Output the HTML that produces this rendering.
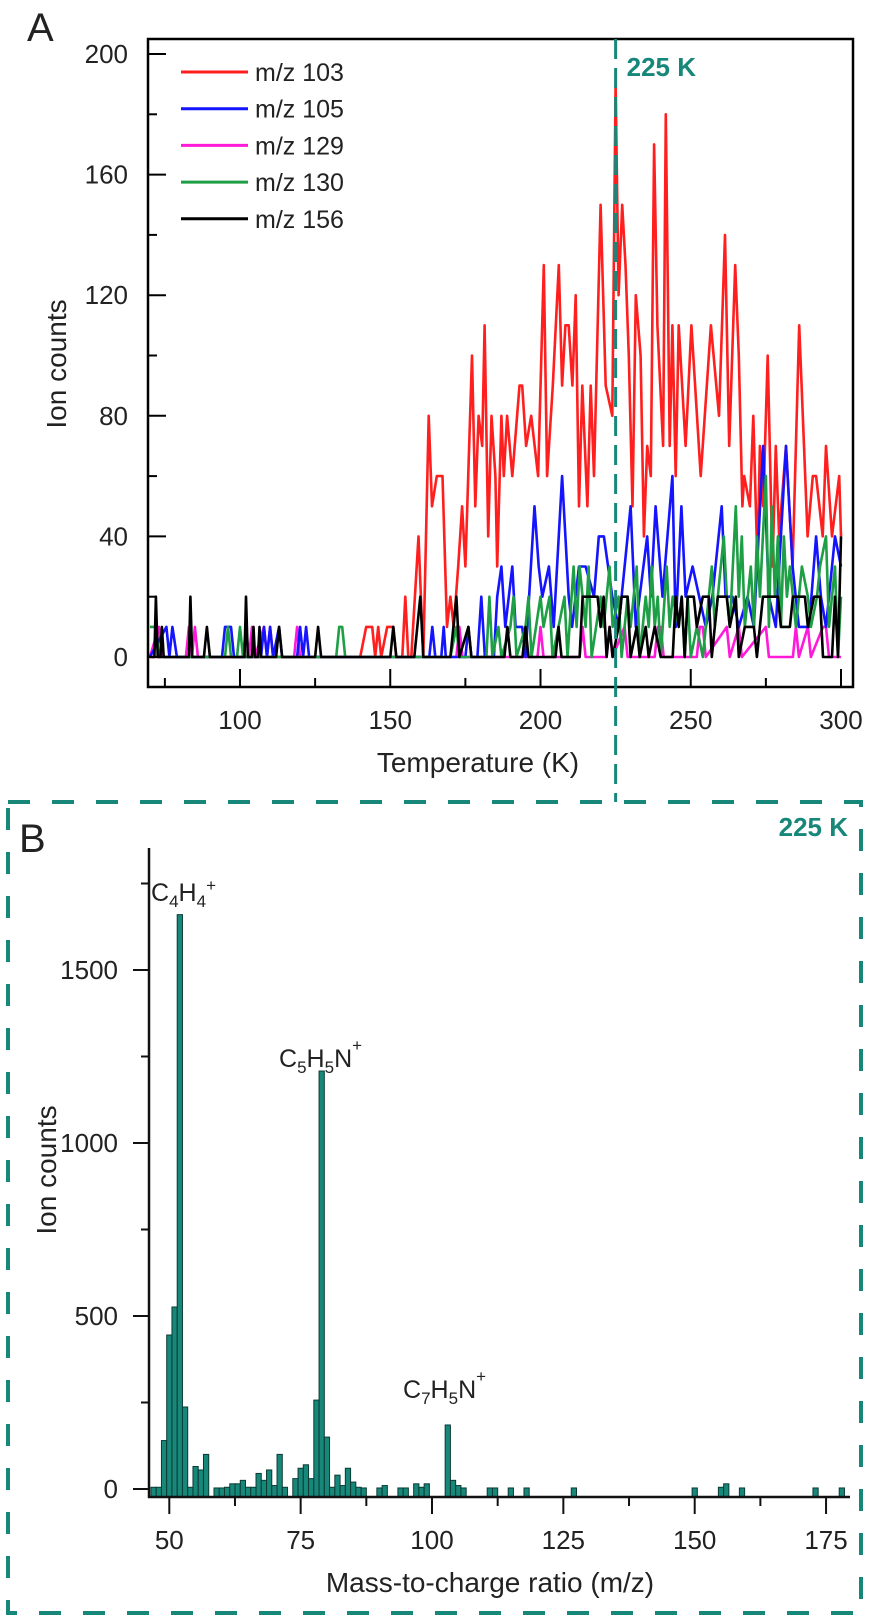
<!DOCTYPE html>
<html><head><meta charset="utf-8"><style>
html,body{margin:0;padding:0;background:#fff;}
svg{display:block;font-family:"Liberation Sans",Arial,sans-serif;}
</style></head><body>
<svg id="fig" width="870" height="1621" viewBox="0 0 870 1621" xmlns="http://www.w3.org/2000/svg">
<g id="panelA"></g>
<g id="panelB"></g>
</svg>
<script>
// ---------- Panel A data ----------
const redT=[70,140,142,144,145,146,147,149,151,152,154,155,156,157,159.4,161,162.8,163.9,165.5,167.4,168.9,170,171.1,172.6,173.9,175,177.2,178.3,179.4,180.6,181.4,182.6,183.7,185,185.6,187,187.8,188.9,190.6,193,193.9,195.2,196.9,199.2,201.1,202.2,204.1,206.1,207.2,208.3,209.4,210.6,211.7,212.8,213.9,215.6,216.7,217.8,220,221.7,223.9,225,226,227.2,228.3,229.4,230.6,231.7,233.3,234.4,235.5,236.7,237.8,238.9,240.8,241.7,243,243.9,245,246,248.3,250.2,253.3,256.7,259.4,261.4,262.8,264.8,266,267.2,267.8,269.7,270.8,272.2,273,274.1,275.6,277.2,278.3,279.4,281.7,283.9,286.1,288.9,290.6,291.7,293.9,295,297,299.4,300];
const redV=[0,0,10,10,0,10,0,10,10,0,0,20,0,0,40,0,80,50,60,60,10,20,10,30,50,30,100,50,80,70,110,40,80,60,30,80,60,80,60,90,90,70,80,60,130,60,90,130,90,110,110,90,120,50,90,50,90,60,150,90,80,190,120,150,130,100,50,120,100,40,70,60,170,110,70,180,70,110,60,110,70,110,60,110,80,140,70,130,100,50,60,50,80,30,70,50,100,30,70,40,70,30,110,40,60,60,40,70,40,60,40,40];
const blueT=[70,75.5,76.5,77.5,79,94,95,97,98,107,108,109,110,111,113,114,119,120,121,122,123,163,164,165,167,167.8,168.5,175,176,177,179,180.3,181.5,184.5,185.6,187,188.3,190.6,191.7,193.9,195,198,199.4,200.6,202.8,204.4,207.2,209.4,210.5,212.8,215,217.8,219.4,221.1,223.9,226,230,231.7,235.5,236.7,238.3,240.6,243.9,245,246.9,248.3,250.6,252.8,255,257.2,260.3,261.6,263.9,266,268.9,271,274.1,276,278.3,281.7,283.9,286,289.4,291.7,293.3,295,298,300];
const blueV=[0,10,0,10,0,0,10,10,0,0,10,0,10,0,10,0,0,10,0,10,0,0,10,0,0,10,0,0,10,0,0,20,0,0,20,30,10,30,10,10,0,50,30,20,30,10,60,20,10,30,30,20,40,40,20,10,50,10,40,20,50,20,60,10,50,20,30,20,10,20,50,20,20,10,20,10,70,20,10,70,30,10,10,40,20,10,40,30];
const magT=[70,73,74,82,83,84,85,86,101,102,103,104,105,108,109,110,111,118,119,120,172,173,174,199,200,201,213,214,215,222,223,224,228,229,238,239,240,241,252,253,254,255,262,263,266,267,275,276,284,285,286,289,290,294,295,296,300];
const magV=[0,10,0,0,10,0,10,0,0,10,0,10,0,10,0,10,0,0,10,0,0,10,0,0,10,0,0,10,0,0,10,0,10,0,0,10,10,0,0,10,10,0,10,0,10,0,10,0,0,10,0,10,0,10,10,0,0];
const greenT=[70,72,73,95,96,97,99,100,101,132,133,134,135,170,172,173,182,183,184,186,187,190,191,192,195,196,197,200,201,203,204,206,208,209,211,212,213,214,215,216,217,220,221,223,224,226,227,229,230,232,233,235,236,237,238,239,240,242,243,244,246,247,248,249,250,252,254,256,257,258,260,261,262,263,265,266,267,268,270,271,272,273,275,276,277,278,279,280,281,282,283,285,287,289,290,292,293,295,296,298,299,300];
const greenV=[10,10,0,0,10,0,0,10,0,0,10,10,0,0,10,0,0,20,0,10,0,10,20,0,10,20,0,20,10,20,0,10,20,0,30,10,30,20,10,30,0,20,10,30,10,20,0,20,10,30,0,20,10,30,10,20,0,30,10,20,10,20,0,20,0,10,0,20,30,10,30,40,20,10,50,20,40,10,30,10,40,20,60,10,50,20,40,10,40,20,30,10,30,20,10,20,30,40,10,30,0,20];
const blackT=[70,71.5,72,72.6,73.5,74,74.6,83,83.5,84.1,88,89,90,101.5,102,102.6,104,104.5,105,106,106.5,107,112,113,114,125,126,127,150,151,152,158,160,161,170,172,173,176,177,188,189,190,194,195,196,205,206,207,213,214,219,220,221,222,223,224,226,227,229,230,232,233,235,236,238,240,244,245,246,247,248,249,251,252,254,256,257,259,262,263,265,266,268,271,272,274,279,280,283,284,288,289,291,293,294,297,298,299,300];
const blackV=[0,0,20,0,0,10,0,0,20,0,0,10,0,0,20,0,0,10,0,0,10,0,0,10,0,0,10,0,0,10,0,0,20,0,0,20,0,10,0,0,10,0,0,10,0,0,10,0,0,20,20,10,20,0,10,0,10,20,20,0,10,0,10,0,10,0,0,20,10,20,0,20,20,10,20,20,0,20,20,10,20,0,10,10,0,20,20,10,10,20,20,10,20,20,0,0,20,0,40];
const seriesNames=["m/z 103","m/z 105","m/z 129","m/z 130","m/z 156"];
const xTicksA=[100,150,200,250,300];
const yTicksA=[0,40,80,120,160,200];
const markerT=[225];

// ---------- Panel B data ----------
const mz=[47,48,49,50,51,52,53,54,55,56,57,59,60,61,62,63,64,65,66,67,68,69,70,71,72,74,75,76,77,78,79,80,81,82,83,84,85,86,87,90,91,94,95,97,98,99,103,104,105,106,111,112,115,118,127,150,155,156,159,173,178];
const counts=[5,5,140,445,526,1660,237,5,65,55,100,3,3,5,15,15,25,5,5,45,25,55,10,100,5,30,60,70,30,257,1208,150,5,40,10,60,20,5,3,3,10,3,3,15,5,15,185,25,10,3,3,3,3,3,3,3,5,15,3,3,3];
const xTicksB=[50,75,100,125,150,175];
const yTicksB=[0,500,1000,1500];

const NS="http://www.w3.org/2000/svg";
function el(tag,attrs,parent,text){const e=document.createElementNS(NS,tag);for(const k in attrs)e.setAttribute(k,attrs[k]);if(text!==undefined)e.textContent=text;parent.appendChild(e);return e;}
const TEAL="#17877a";

// ===== Panel A =====
const A=document.getElementById('panelA');
const xA=t=>240+(t-100)*3.005;
const yA=v=>657-v*3.015;
const fL=148,fR=853,fT=39,fB=687;

const series=[[redT,redV,"#ff1f1f"],[blueT,blueV,"#1414ff"],[magT,magV,"#ff1ad9"],[greenT,greenV,"#1e9e45"],[blackT,blackV,"#000000"]];
const sNames=['series-mz103','series-mz105','series-mz129','series-mz130','series-mz156'];
[2,0,1,3,4].forEach(i=>{
  const [T,V,c]=series[i];
  let d='';T.forEach((t,j)=>{d+=(j?'L':'M')+xA(t).toFixed(1)+','+yA(V[j]).toFixed(1);});
  const p=el('path',{d:d,fill:'none',stroke:c,'stroke-width':2.6,'stroke-linejoin':'round'},A);
  
  
});

const fr=el('rect',{x:fL,y:fT,width:fR-fL,height:fB-fT,fill:'none',stroke:'#000','stroke-width':2.5},A);



for(let v=0;v<=200;v+=20){
  const major=v%40===0;
  const t=el('line',{x1:fL,x2:fL+(major?18:9),y1:yA(v),y2:yA(v),stroke:'#000','stroke-width':2},A);
  
  
}
yTicksA.forEach(v=>{
  const t=el('text',{x:128,y:yA(v)+9,'text-anchor':'end','font-size':26,fill:'#222'},A,String(v));
  
  
});
for(let t=75;t<=300;t+=25){
  const major=t%50===0;
  const l=el('line',{x1:xA(t),x2:xA(t),y1:fB,y2:fB-(major?18:9),stroke:'#000','stroke-width':2},A);
  
  
}
xTicksA.forEach(t=>{
  const e=el('text',{x:xA(t),y:729,'text-anchor':'middle','font-size':26,fill:'#222'},A,String(t));
  
  
});
const ytA=el('text',{x:0,y:0,transform:'translate(66,364) rotate(-90)','text-anchor':'middle','font-size':28,fill:'#222'},A,'Ion counts');


const xtA=el('text',{x:478,y:772,'text-anchor':'middle','font-size':28,fill:'#222'},A,'Temperature (K)');


const la=el('text',{x:27,y:41,'font-size':40,fill:'#222'},A,'A');



const legColors=["#ff1f1f","#1414ff","#ff1ad9","#1e9e45","#000000"];
seriesNames.forEach((n,i)=>{
  const y=72+i*36.7;
  const g=el('g',{},A);
  
  
  el('line',{x1:181,x2:248,y1:y,y2:y,stroke:legColors[i],'stroke-width':3},g);
  el('text',{x:255,y:y+9,'font-size':25,fill:'#222'},g,n);
});

markerT.forEach(t=>{
  const ml=el('line',{x1:xA(t),x2:xA(t),y1:fT,y2:802,stroke:TEAL,'stroke-width':3,'stroke-dasharray':'20 9'},document.getElementById('fig'));
  
  
  const lt=el('text',{x:xA(t)+11,y:76,'font-size':26,'font-weight':'bold',fill:TEAL},A,t+' K');
  
  
});

// ===== Panel B =====
const B=document.getElementById('panelB');
const box=el('rect',{x:8,y:802,width:853,height:811,fill:'none',stroke:TEAL,'stroke-width':4,'stroke-dasharray':'22 22'},B);


const lb=el('text',{x:19,y:852,'font-size':40,fill:'#222'},B,'B');


const tb=el('text',{x:848,y:836,'text-anchor':'end','font-size':26,'font-weight':'bold',fill:TEAL},B,'225 K');



const xB=m=>169.3+(m-50)*5.254;
const yB=v=>1489-v*0.346;
const axL=149,axB=1497;
mz.forEach((m,i)=>{
  const h=counts[i]*0.346;
  const r=el('rect',{x:xB(m)-2.6,y:yB(counts[i]),width:5.25,height:Math.max(h,1.5)+(axB-1489),fill:TEAL,stroke:'#0b3b34','stroke-width':1},B);
  
  
});
const yax=el('line',{x1:axL,x2:axL,y1:848,y2:axB+1,stroke:'#111','stroke-width':2.5},B);


const xax=el('line',{x1:axL-1,x2:850,y1:axB,y2:axB,stroke:'#111','stroke-width':2.5},B);


for(let v=0;v<=1750;v+=250){
  const major=v%500===0;
  const t=el('line',{x1:axL-(major?16:8),x2:axL,y1:yB(v),y2:yB(v),stroke:'#111','stroke-width':2},B);
  
  
}
yTicksB.forEach(v=>{
  const t=el('text',{x:118,y:yB(v)+9,'text-anchor':'end','font-size':26,fill:'#222'},B,String(v));
  
  
});
for(let m=50;m<=175;m+=12.5){
  const major=(m%25)===0;
  const t=el('line',{x1:xB(m),x2:xB(m),y1:axB,y2:axB+(major?17:9),stroke:'#111','stroke-width':2},B);
  
  
}
xTicksB.forEach(m=>{
  const t=el('text',{x:xB(m),y:1549,'text-anchor':'middle','font-size':26,fill:'#222'},B,String(m));
  
  
});
const ytB=el('text',{x:0,y:0,transform:'translate(56,1170) rotate(-90)','text-anchor':'middle','font-size':28,fill:'#222'},B,'Ion counts');


const xtB=el('text',{x:490,y:1592,'text-anchor':'middle','font-size':28,fill:'#222'},B,'Mass-to-charge ratio (m/z)');



function formula(x,y,parts,name){
  const t=el('text',{x:x,y:y,'font-size':25,fill:'#222'},B);
  
  
  parts.forEach(p=>{
    const s=el('tspan',{},t,p[0]);
    if(p[1]==='sub'){s.setAttribute('font-size','17');s.setAttribute('dy','6');}
    else if(p[1]==='sup'){s.setAttribute('font-size','17');s.setAttribute('dy','-16');}
    else if(p[1]==='back'){s.setAttribute('dy','-6');}
  });
}
formula(151,901,[["C"],["4",'sub'],["H",'back'],["4",'sub'],["+",'sup']],'annotation-c4h4');
formula(279,1067,[["C"],["5",'sub'],["H",'back'],["5",'sub'],["N",'back'],["+",'sup']],'annotation-c5h5n');
formula(403,1398,[["C"],["7",'sub'],["H",'back'],["5",'sub'],["N",'back'],["+",'sup']],'annotation-c7h5n');
</script>
</body></html>
